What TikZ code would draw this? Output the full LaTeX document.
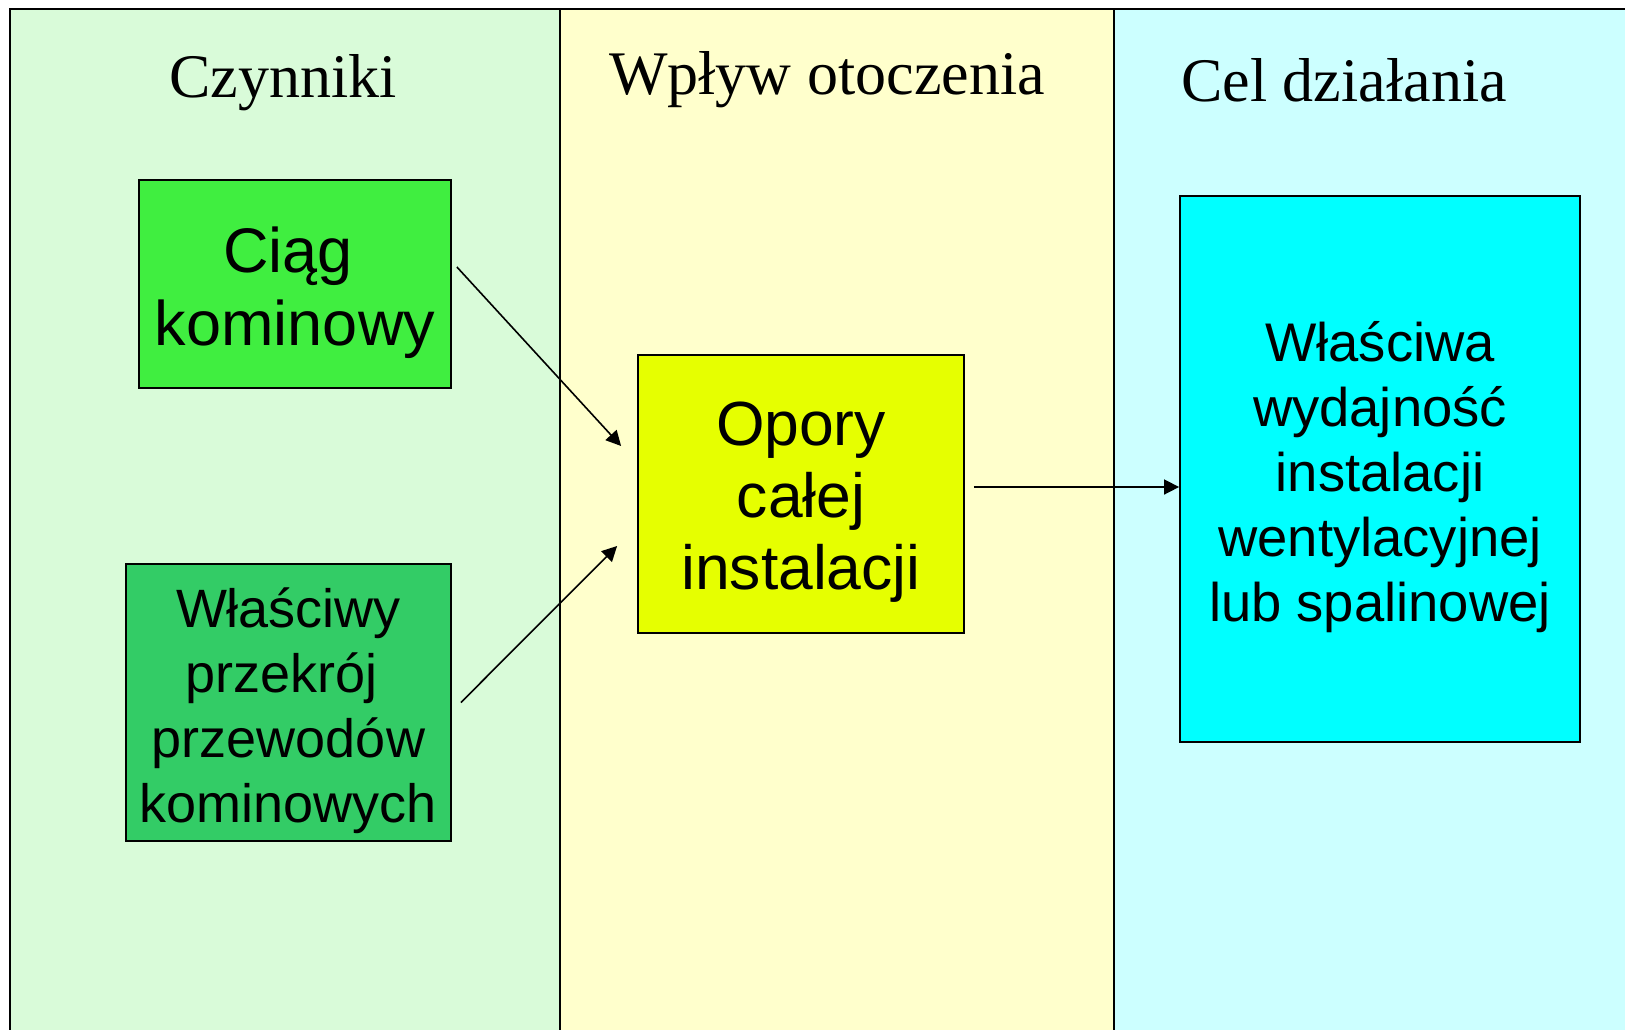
\documentclass[tikz,border=0pt]{standalone}
\usepackage{fontspec}
\setmainfont{Liberation Serif}
\setsansfont{Liberation Sans}
\usetikzlibrary{positioning,arrows.meta}
\definecolor{tlozielone}{RGB}{217,251,217}
\definecolor{tlozolte}{RGB}{255,255,204}
\definecolor{tloniebieskie}{RGB}{204,255,255}
\definecolor{ciagkolor}{RGB}{64,238,64}
\definecolor{przekrojkolor}{RGB}{51,204,102}
\definecolor{oporykolor}{RGB}{230,255,0}
\definecolor{celkolor}{RGB}{0,255,255}
\tikzset{
  linia/.style={line width=1.8pt},
  pudlo/.style={rectangle,draw,line width=1.8pt,inner sep=0pt},
  napis/.style={font=\sffamily,align=center,inner sep=0pt,yshift=-8.5pt},
  tytul/.style={font=\fontsize{62}{70}\selectfont,anchor=base,inner sep=0pt},
  strzalka/.style={-{Triangle[length=15pt,width=15pt]},line width=1.6pt}
}

\begin{document}
\begin{tikzpicture}[x=1pt, y=-1pt]
            \useasboundingbox (0,0) rectangle (1625,1029);
            \clip (0,0) rectangle (1625,1029);
            % kolumny
            \fill[tlozielone] (10,9) rectangle (560,1040);
            \fill[tlozolte] (560,9) rectangle (1114,1040);
            \fill[tloniebieskie] (1114,9) rectangle (1640,1040);
            \draw[linia] (10,1040) -- (10,9) -- (1640,9);
            \draw[linia] (560,9) -- (560,1040);
            \draw[linia] (1114,9) -- (1114,1040);
            \node[tytul] (czynniki) at (283,97.5) {Czynniki};
            \node[tytul] (wplyw) at (827,94.5) {Wpływ otoczenia};
            \node[tytul] (celdz) at (1344,101.5) {Cel działania};
            % pudla
            \node[pudlo,fill=ciagkolor,minimum width=312pt,minimum height=208pt] (ciag) at (295,284) {};
            \node[pudlo,fill=przekrojkolor,minimum width=325pt,minimum height=277pt] (przekroj) at (288.5,702.5) {};
            \node[pudlo,fill=oporykolor,minimum width=326pt,minimum height=278pt] (opory) at (801,494) {};
            \node[pudlo,fill=celkolor,minimum width=400pt,minimum height=546pt] (cel) at (1380,469) {};
            \node[napis,font=\sffamily\fontsize{63}{72.5}\selectfont] (ciagtxt) at (ciag) {Ciąg\hspace{14pt}\mbox{}\\kominowy};
            \node[napis,font=\sffamily\fontsize{54}{65}\selectfont] (przekrojtxt) at (przekroj) {Właściwy\\przekrój\hspace{14pt}\mbox{}\\przewodów\\kominowych};
            \node[napis,font=\sffamily\fontsize{62.4}{72}\selectfont] (orytxt) at (opory) {Opory\\całej\\instalacji};
            \node[napis,font=\sffamily\fontsize{54.4}{65}\selectfont] (celtxt) at (cel) {Właściwa\\wydajność\\instalacji\\wentylacyjnej\\lub spalinowej};
            % strzalki
            \coordinate (s1) at ([xshift=5pt,yshift=17pt]ciag.east);
            \coordinate (k1) at ([xshift=-16pt,yshift=48pt]opory.west);
            \coordinate (s2) at ([xshift=9pt]przekroj.east);
            \coordinate (k2) at ([xshift=-20pt,yshift=-52pt]opory.west);
            \coordinate (s3) at ([xshift=9pt,yshift=7pt]opory.east);
            \coordinate (k3) at ([yshift=-18pt]cel.west);
            \draw[strzalka] (s1) -- (k1);
            \draw[strzalka] (s2) -- (k2);
            \draw[strzalka] (s3) -- (k3);
        \end{tikzpicture}
\end{document}
